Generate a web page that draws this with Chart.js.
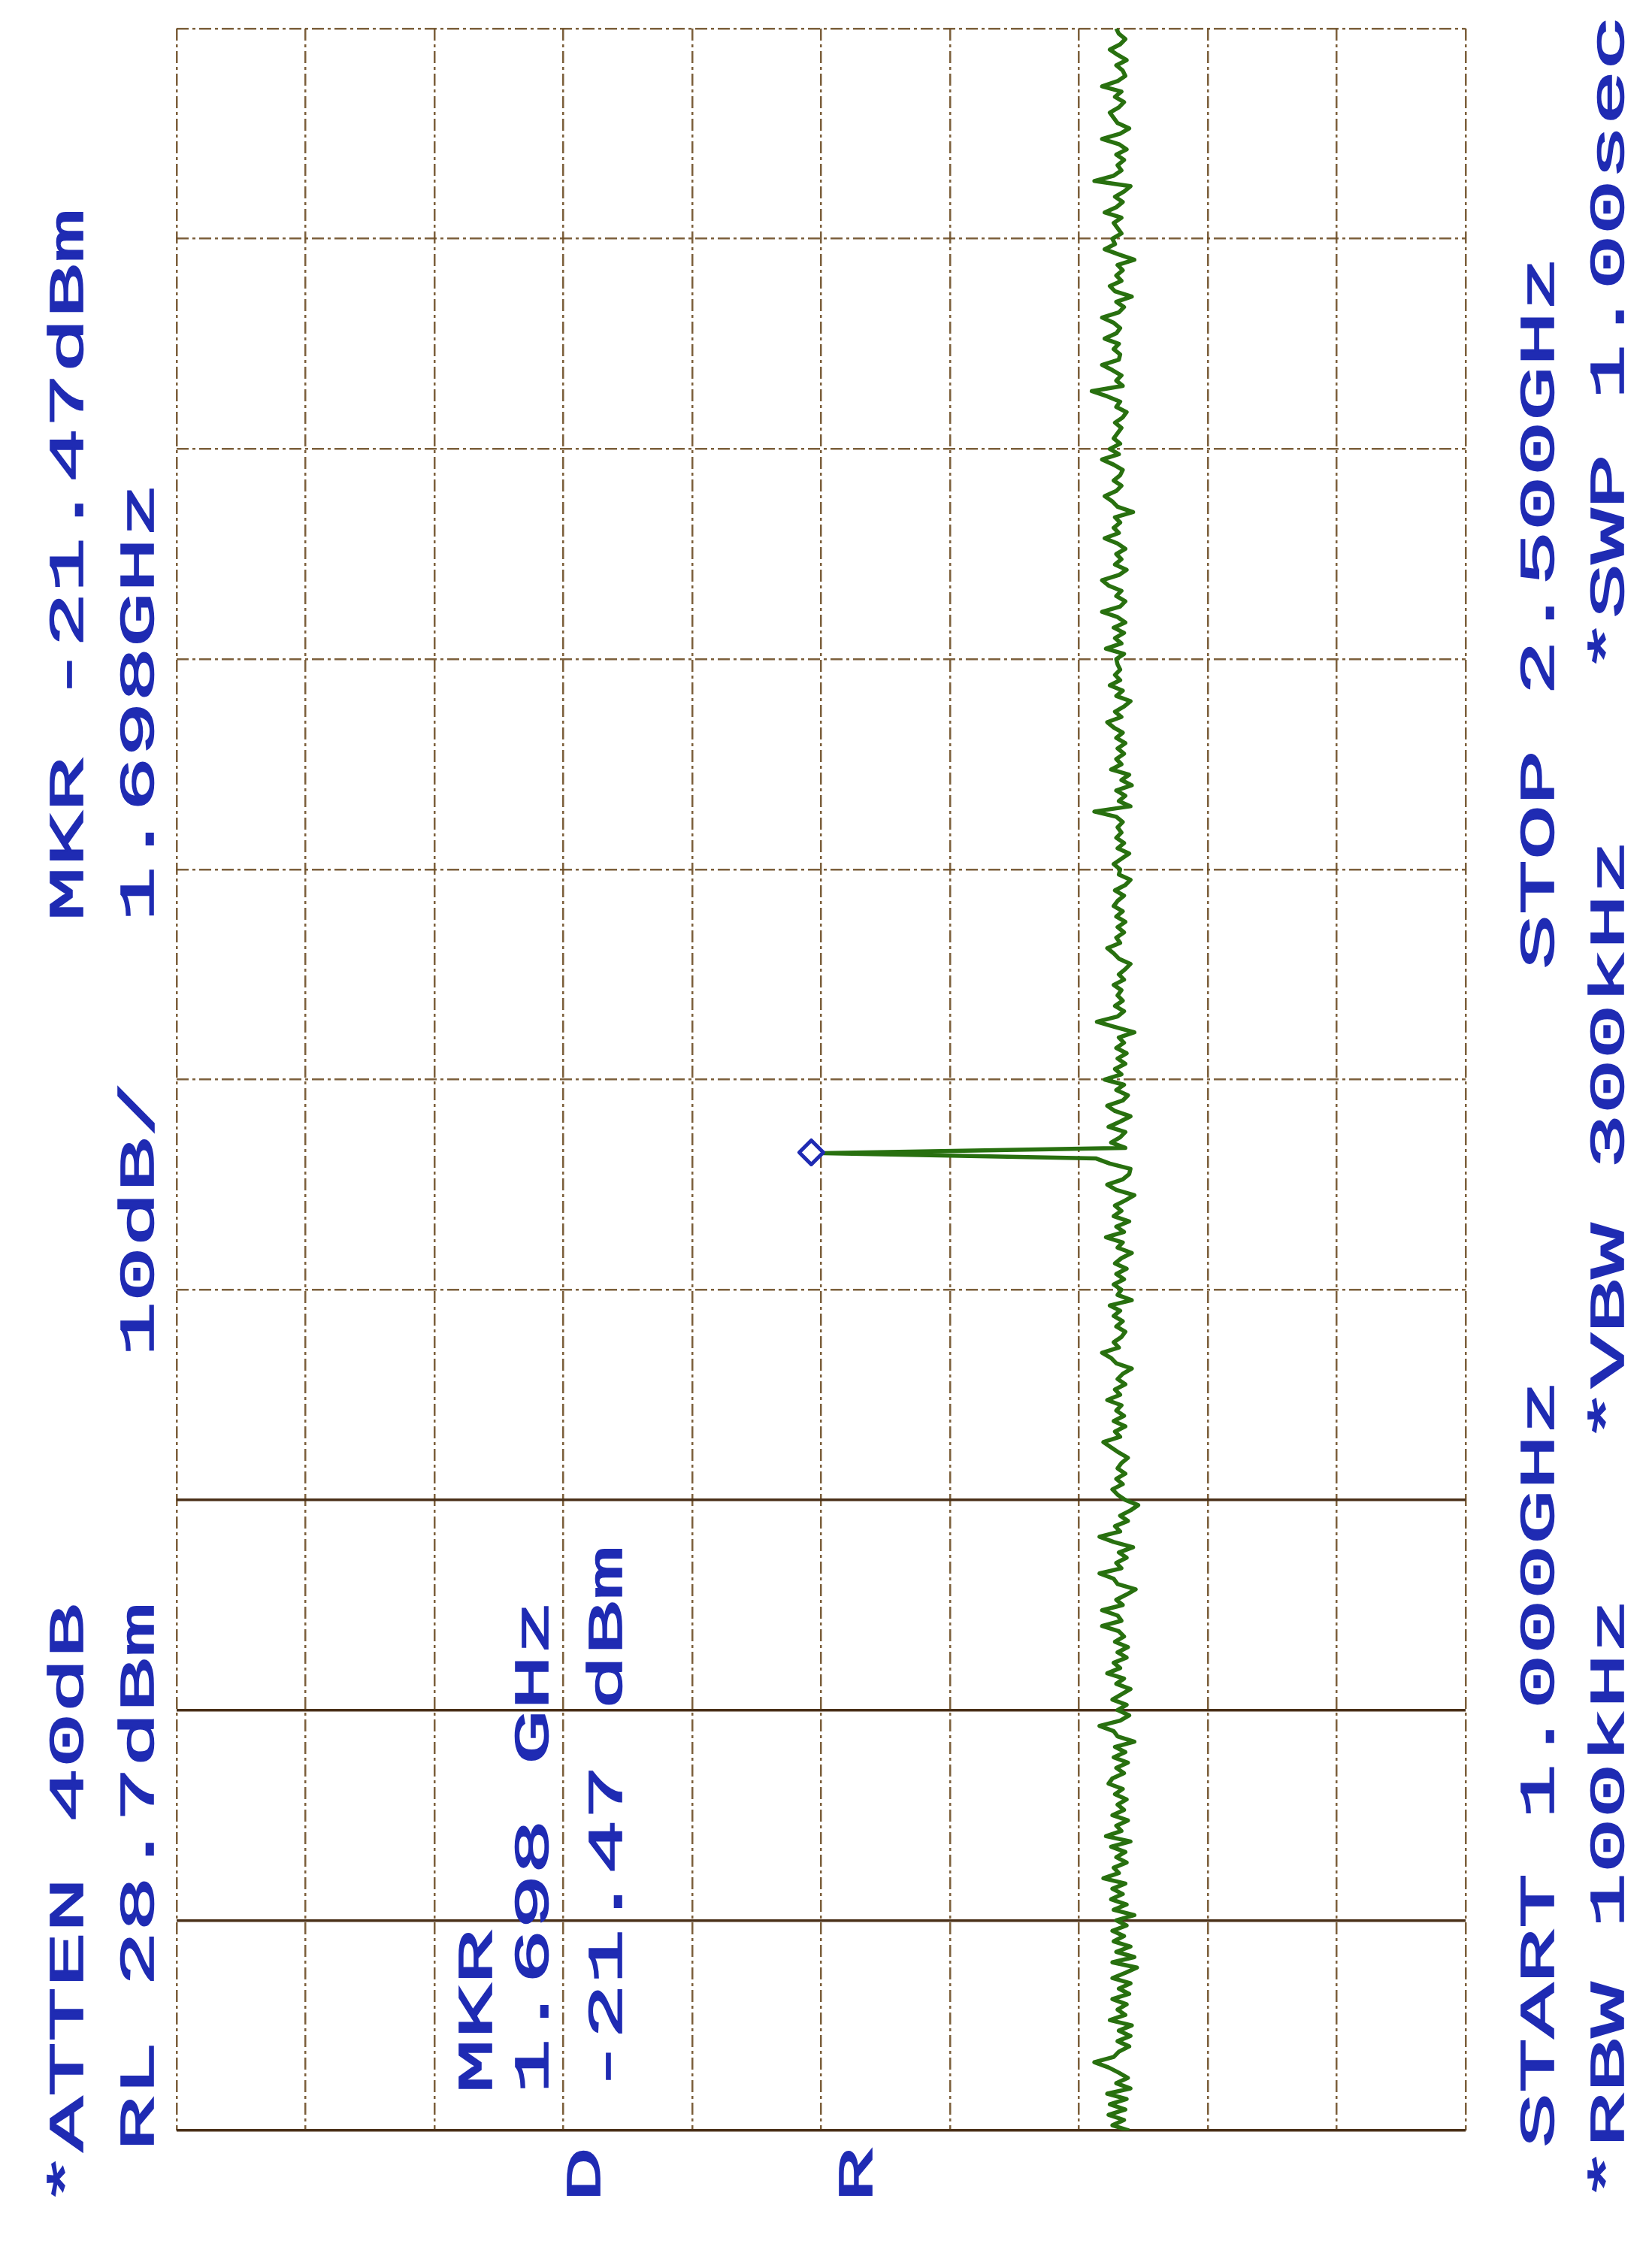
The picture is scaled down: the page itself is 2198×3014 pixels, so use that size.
<!DOCTYPE html>
<html>
<head>
<meta charset="utf-8">
<title>Spectrum plot 1.000 - 2.500 GHz</title>
<script src="https://cdn.jsdelivr.net/npm/chart.js@4.4.1/dist/chart.umd.min.js"></script>
<style>
  html, body { margin: 0; padding: 0; background: #ffffff; }
  #plot { display: block; }
</style>
</head>
<body>
<canvas id="plot" width="2198" height="3014"></canvas>
<script>
// instrument settings
const START_GHZ = 1.0;
const STOP_GHZ = 2.5;
const REF_LEVEL = 28.7;   // dBm, left edge
const DB_PER_DIV = 10;
const DIVISIONS = 10;
const MKR_FREQ = 1.698;   // GHz
const MKR_LEVEL = -21.47; // dBm

// trace amplitude in dBm, one value per sweep point, from 1.000 GHz (first) to 2.500 GHz (last)
const traceDbm = [
  -45.2, -43.9, -44.8, -43.6, -44.9, -43.7, -45.0, -43.5, -45.3, -44.2,
  -45.1, -44.4, -43.6, -42.5, -44.0, -44.4, -45.2, -44.3, -45.3, -44.4,
  -45.4, -43.7, -44.9, -44.3, -45.0, -43.9, -45.2, -44.4, -45.3, -43.9,
  -44.9, -45.8, -43.9, -45.6, -44.2, -45.3, -44.0, -44.8, -43.9, -45.0,
  -44.2, -45.6, -44.0, -45.0, -43.8, -44.7, -43.9, -44.9, -43.2, -44.4,
  -44.0, -45.0, -44.2, -44.9, -43.8, -45.3, -43.4, -44.6, -44.2, -45.1,
  -43.9, -44.8, -44.3, -45.0, -44.1, -44.7, -43.6, -43.9, -44.8, -44.2,
  -45.1, -44.0, -44.9, -44.1, -45.6, -44.3, -44.0, -42.9, -44.5, -45.2,
  -44.3, -45.0, -43.9, -44.6, -45.3, -44.2, -44.8, -43.5, -44.5, -44.0,
  -45.0, -44.3, -45.1, -44.1, -44.8, -44.4, -43.1, -44.6, -44.3, -43.1,
  -44.7, -44.2, -45.0, -45.7, -44.3, -44.0, -42.9, -44.6, -44.2, -45.0,
  -44.4, -45.5, -44.0, -42.9, -44.5, -44.1, -45.1, -44.5, -45.3, -45.9,
  -44.9, -44.3, -43.9, -44.7, -44.2, -44.9, -44.3, -44.6, -45.1, -44.4,
  -43.8, -43.2, -44.5, -44.1, -44.9, -44.0, -44.8, -44.2, -44.6, -43.5,
  -44.5, -44.1, -44.9, -44.3, -44.7, -45.4, -44.2, -43.8, -43.1, -44.4,
  -44.0, -44.6, -44.9, -44.2, -44.7, -44.0, -44.5, -43.7, -45.4, -44.3,
  -44.6, -44.0, -44.8, -44.2, -45.0, -44.1, -44.6, -45.4, -44.3, -44.7,
  -43.4, -44.8, -44.2, -45.2, -44.0, -44.6, -44.1, -44.9, -45.6, -44.2,
  -43.5, -44.7, -45.2, -45.3, -43.7, -42.6, -21.47, -44.9, -43.8, -44.5,
  -44.9, -43.6, -44.5, -45.3, -44.1, -43.5, -44.7, -45.1, -44.2, -44.8,
  -43.3, -44.6, -44.1, -44.9, -44.3, -45.0, -44.2, -44.8, -44.4, -45.6,
  -44.1, -42.7, -44.3, -44.8, -44.1, -44.7, -44.3, -44.6, -44.0, -44.8,
  -44.4, -44.9, -45.3, -44.4, -44.0, -43.5, -44.5, -44.2, -44.8, -44.3,
  -44.9, -44.2, -44.7, -44.0, -44.3, -44.8, -44.1, -44.9, -45.3, -44.4,
  -44.5, -44.0, -44.6, -45.2, -44.3, -44.8, -44.2, -44.6, -44.3, -44.7,
  -44.2, -42.5, -45.3, -44.4, -44.9, -44.2, -45.4, -44.6, -45.2, -43.8,
  -44.6, -44.2, -44.8, -44.3, -44.9, -44.2, -44.7, -44.0, -43.5, -44.6,
  -44.1, -44.8, -45.3, -44.2, -44.7, -43.7, -44.5, -44.1, -44.5, -44.3,
  -44.2, -44.8, -43.4, -44.6, -44.1, -44.8, -44.0, -44.9, -44.3, -43.1,
  -44.5, -44.9, -44.2, -44.6, -43.6, -43.1, -44.4, -45.0, -44.1, -44.6,
  -44.2, -44.9, -44.3, -43.3, -44.4, -44.0, -44.5, -44.1, -45.5, -44.3,
  -43.9, -43.3, -44.2, -44.6, -44.0, -44.5, -44.7, -44.0, -43.1, -44.4,
  -43.7, -44.5, -44.0, -44.3, -44.6, -44.1, -44.7, -45.0, -44.2, -44.5,
  -43.5, -42.3, -44.7, -44.2, -44.6, -43.9, -43.1, -44.4, -44.5, -44.0,
  -44.4, -43.3, -44.2, -44.5, -44.0, -43.1, -44.4, -44.8, -44.2, -45.4,
  -44.1, -43.7, -44.6, -44.2, -44.7, -44.3, -45.6, -44.4, -43.3, -44.1,
  -43.9, -44.6, -44.3, -44.0, -44.6, -43.3, -44.2, -44.7, -44.1, -44.8,
  -45.3, -42.5, -44.0, -44.6, -44.3, -44.8, -44.2, -45.0, -44.4, -43.1,
  -44.5, -45.2, -44.3, -44.0, -43.7, -44.4, -44.8, -44.1, -44.6, -43.1,
  -44.3, -44.9, -44.7, -44.2, -45.0, -44.3, -43.7, -44.5, -44.9, -44.4,
  -44.2
];

// graticule positions
const freqTicks = [];
const levelTicks = [];
for (let i = 0; i <= DIVISIONS; i++) {
  freqTicks.push(START_GHZ + i * (STOP_GHZ - START_GHZ) / DIVISIONS);
  levelTicks.push(REF_LEVEL - i * DB_PER_DIV);
}

// sweep points are evenly spaced between start and stop
const n = traceDbm.length;
const tracePoints = traceDbm.map((v, i) => ({
  x: v,
  y: START_GHZ + i * (STOP_GHZ - START_GHZ) / (n - 1)
}));

const BLUE = '#1f2bb3';
const GRID_DASHED = 'rgba(110, 78, 38, 0.9)';
const GRID_SOLID = '#4a3018';
const SOLID_ROWS = 4; // lowest freq lines are drawn solid

const notes = [
  // text, baseline x, start y (text reads bottom to top)
  ['*ATTEN 40dB', 110, 2936],
  ['RL ' + REF_LEVEL.toFixed(1) + 'dBm', 204, 2862],
  [DB_PER_DIV + 'dB/', 204, 1805],
  ['MKR ' + MKR_LEVEL.toFixed(2) + 'dBm', 110, 1226],
  [MKR_FREQ.toFixed(3) + 'GHz', 204, 1226],
  ['MKR', 654, 2786],
  [MKR_FREQ.toFixed(3) + ' GHz', 729, 2786],
  [MKR_LEVEL.toFixed(2) + ' dBm', 827, 2786],
  ['D', 798, 2930],
  ['R', 1160, 2930],
  ['START ' + START_GHZ.toFixed(3) + 'GHz', 2067, 2858],
  ['STOP ' + STOP_GHZ.toFixed(3) + 'GHz', 2067, 1290],
  ['*RBW 100kHz', 2160, 2930],
  ['*VBW 300kHz', 2160, 1920],
  ['*SWP 1.00sec', 2160, 896]
];

const notesPlugin = {
  id: 'notes',
  afterDatasetsDraw(chart) {
    const ctx = chart.ctx;
    const xs = chart.scales.x;
    const ys = chart.scales.y;

    // marker diamond, its right corner on the peak
    const px = xs.getPixelForValue(MKR_LEVEL);
    const py = ys.getPixelForValue(MKR_FREQ);
    const r = 16;
    ctx.save();
    ctx.strokeStyle = BLUE;
    ctx.lineWidth = 5;
    ctx.lineJoin = 'round';
    ctx.beginPath();
    ctx.moveTo(px, py);
    ctx.lineTo(px - r, py - r);
    ctx.lineTo(px - 2 * r, py);
    ctx.lineTo(px - r, py + r);
    ctx.closePath();
    ctx.stroke();
    ctx.restore();

    ctx.save();
    ctx.fillStyle = BLUE;
    ctx.strokeStyle = BLUE;
    ctx.lineWidth = 1.6;
    ctx.font = '64px "Liberation Mono", "DejaVu Sans Mono", monospace';
    ctx.textBaseline = 'alphabetic';
    ctx.textAlign = 'left';
    notes.forEach(([text, x, y]) => {
      ctx.save();
      ctx.translate(x, y);
      ctx.rotate(-Math.PI / 2);
      ctx.scale(1.9, 1);
      ctx.fillText(text, 0, 0);
      ctx.strokeText(text, 0, 0);
      ctx.restore();
    });
    ctx.restore();
  }
};

const chart = new Chart(document.getElementById('plot'), {
  type: 'scatter',
  data: {
    datasets: [{
      label: 'Trace A',
      data: tracePoints,
      showLine: true,
      borderColor: '#28700f',
      borderWidth: 5.5,
      borderJoinStyle: 'round',
      pointRadius: 0,
      tension: 0
    }]
  },
  options: {
    responsive: false,
    animation: false,
    devicePixelRatio: 1,
    layout: { padding: { left: 235, right: 248, top: 38, bottom: 179 } },
    plugins: {
      legend: { display: false },
      tooltip: { enabled: false }
    },
    scales: {
      x: {
        type: 'linear',
        reverse: true,
        min: REF_LEVEL - DB_PER_DIV * DIVISIONS,
        max: REF_LEVEL,
        afterBuildTicks: s => { s.ticks = levelTicks.map(v => ({ value: v })); },
        ticks: { display: false },
        grid: { drawTicks: false, color: GRID_DASHED, lineWidth: 2.5 },
        border: { display: false, dash: [16, 5, 4, 5] }
      },
      y: {
        type: 'linear',
        min: START_GHZ,
        max: STOP_GHZ,
        afterBuildTicks: s => { s.ticks = freqTicks.map(v => ({ value: v })); },
        ticks: { display: false },
        grid: {
          drawTicks: false,
          color: c => (c.index < SOLID_ROWS ? GRID_SOLID : GRID_DASHED),
          lineWidth: c => (c.index < SOLID_ROWS ? 3.5 : 2.5)
        },
        border: {
          display: false,
          dash: c => (c.index < SOLID_ROWS ? [] : [16, 5, 4, 5])
        }
      }
    }
  },
  plugins: [notesPlugin]
});
</script>
</body>
</html>
